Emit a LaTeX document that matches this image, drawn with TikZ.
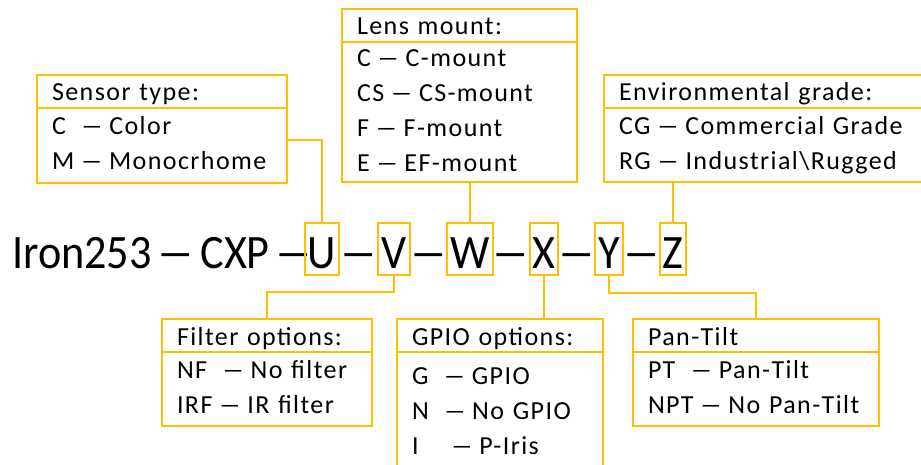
\documentclass[tikz,border=0pt]{standalone}
\usepackage{graphicx}
\usepackage{fontspec}
\setmainfont{Carlito}
\newfontfamily\optfont[LetterSpace=5.5]{Carlito}
\newfontfamily\codefont[FakeStretch=0.92]{Carlito}
\definecolor{gold}{RGB}{255,192,0}
\newcommand{\optlist}[1]{\begin{tabular}{@{}l@{}}#1\end{tabular}}
\newcommand{\ldash}{\kern-.1em\scalebox{1.75}[1]{–}\kern-.1em}
\tikzset{
optbox/.style={draw=gold, line width=2pt, outer sep=0pt, anchor=north west,
  inner xsep=15pt, align=left, font=\optfont\fontsize{26}{35}\selectfont},
opthead/.style={optbox, inner ysep=3pt, text height=23pt, text depth=4pt, minimum height=33pt},
optbody/.style={optbox, inner ysep=0pt},
codebox/.style={draw=gold, line width=2pt, inner xsep=3pt, inner ysep=0pt,
  text height=40pt, text depth=0pt, minimum height=52pt, font=\codefont\fontsize{48}{58}\selectfont},
codetext/.style={inner sep=0pt, font=\codefont\fontsize{48}{58}\selectfont},
link/.style={draw=gold, line width=2pt}
}
\begin{document}
\begin{tikzpicture}[x=1pt, y=-1pt]
\useasboundingbox (0,0) rectangle (921,465);
\clip (0,0) rectangle (921,465);
% part number
\node[codetext, anchor=base west] (prefix) at (12,269) {Iron253 \ldash{} CXP \ldash};
\node[codebox] (codeU) at (322,249) {U};
\node[codebox] (codeV) at (394,249) {V};
\node[codebox] (codeW) at (470,249) {W};
\node[codebox] (codeX) at (544,249) {X};
\node[codebox] (codeY) at (609,249) {Y};
\node[codebox] (codeZ) at (673,249) {Z};
\node[codetext, anchor=base] (dashUV) at (358.5,269) {\ldash};
\node[codetext, anchor=base] (dashVW) at (428.5,269) {\ldash};
\node[codetext, anchor=base] (dashWX) at (511,269) {\ldash};
\node[codetext, anchor=base] (dashXY) at (576.5,269) {\ldash};
\node[codetext, anchor=base] (dashYZ) at (641.5,269) {\ldash};
% upper boxes
\node[opthead, text width=220pt] (sensorhead) at (37,75) {Sensor type:};
\node[optbody, text width=220pt, minimum height=75pt] (sensorbody) at (sensorhead.south west)
  {\optlist{C~~\ldash{} Color\\M \ldash{} Monocrhome}};
\node[opthead, text width=205pt] (lenshead) at (342,9) {Lens mount:};
\node[optbody, text width=205pt, minimum height=140pt] (lensbody) at (lenshead.south west)
  {\optlist{C \ldash{} C-mount\\CS \ldash{} CS-mount\\F \ldash{} F-mount\\E \ldash{} EF-mount}};
\node[opthead, text width=300pt] (envhead) at (604,75) {Environmental grade:};
\node[optbody, text width=300pt, minimum height=74pt] (envbody) at (envhead.south west)
  {\optlist{CG \ldash{} Commercial Grade\\RG \ldash{} Industrial\textbackslash Rugged}};
% lower boxes
\node[opthead, text width=180pt] (filterhead) at (162,319) {Filter options:};
\node[optbody, text width=180pt, minimum height=74pt] (filterbody) at (filterhead.south west)
  {\optlist{NF~~\ldash{} No filter\\IRF \ldash{} IR filter}};
\node[opthead, text width=176pt] (gpiohead) at (397,319) {GPIO options:};
\node[optbody, text width=176pt, minimum height=120pt] (gpiobody) at (gpiohead.south west)
  {\optlist{G~~\ldash{} GPIO\\N~~\ldash{} No GPIO\\I~~~~\ldash{} P-Iris}};
\node[opthead, text width=216pt] (pthead) at (633,319) {Pan-Tilt};
\node[optbody, text width=216pt, minimum height=74pt] (ptbody) at (pthead.south west)
  {\optlist{PT~~\ldash{} Pan-Tilt\\NPT \ldash{} No Pan-Tilt}};
% connectors
\draw[link] ([yshift=5.5pt]sensorbody.east) -| (codeU.north);
\draw[link] (codeW.north) -- (codeW.north |- lensbody.south);
\draw[link] (codeZ.north) -- (codeZ.north |- envbody.south);
\draw[link] (codeV.south) -- ++(0,16) -| (filterhead.north);
\draw[link] (codeX.south) -- (codeX.south |- gpiohead.north);
\draw[link] (codeY.south) -- ++(0,17) -| (pthead.north);
\end{tikzpicture}
\end{document}
